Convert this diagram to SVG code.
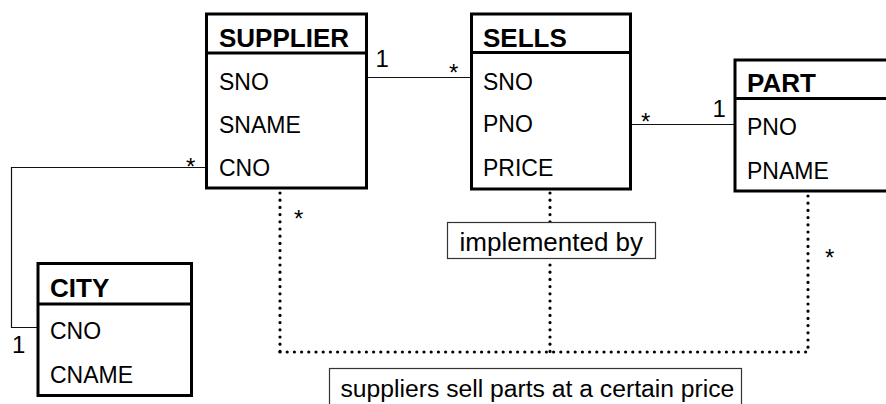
<svg xmlns="http://www.w3.org/2000/svg" width="886" height="404" viewBox="0 0 886 404">
  <style>
    text { font-family: "Liberation Sans", Arial, sans-serif; fill: #000; }
    .box { fill: #fff; stroke: #000; stroke-width: 3; }
    .sep { stroke: #000; stroke-width: 3; }
    .title { font-size: 26px; font-weight: bold; }
    .attr { font-size: 23px; }
    .mult { font-size: 24px; }
    .link { fill: none; stroke: #111; stroke-width: 1.2; }
    .dots { fill: none; stroke: #000; stroke-width: 3.2; stroke-linecap: round; stroke-dasharray: 0 7.2; }
    .note { fill: #fff; stroke: #333; stroke-width: 1.2; }
    .notetext { font-size: 26px; }
  </style>

  <!-- connectors -->
  <g id="connectors">
    <line class="link" x1="368" y1="77.5" x2="470" y2="77.5"/>
    <line class="link" x1="632" y1="124.5" x2="734" y2="124.5"/>
    <polyline class="link" points="205,167.5 11.5,167.5 11.5,327.5 37,327.5"/>

    <line class="dots" x1="280" y1="193" x2="280" y2="352"/>
    <line class="dots" x1="550" y1="193" x2="550" y2="222"/>
    <line class="dots" x1="550" y1="265" x2="550" y2="352"/>
    <line class="dots" x1="808" y1="196" x2="808" y2="352"/>
    <line class="dots" x1="280" y1="352" x2="808" y2="352"/>

    <text class="mult" x="375.5" y="67">1</text>
    <text class="mult" x="449" y="81">*</text>
    <text class="mult" x="641" y="130">*</text>
    <text class="mult" x="712.5" y="116.5">1</text>
    <text class="mult" x="186" y="174.5">*</text>
    <text class="mult" x="12" y="353">1</text>
    <text class="mult" x="294" y="226.5">*</text>
    <text class="mult" x="825" y="266">*</text>
  </g>

  <g id="supplier">
    <rect class="box" x="206.5" y="14" width="160" height="174"/>
    <line class="sep" x1="206.5" y1="53" x2="366.5" y2="53"/>
    <text class="title" x="219" y="46.5">SUPPLIER</text>
    <text class="attr" x="219" y="90">SNO</text>
    <text class="attr" x="219" y="132.5">SNAME</text>
    <text class="attr" x="219" y="176">CNO</text>
  </g>

  <g id="sells">
    <rect class="box" x="471.5" y="14" width="159" height="175"/>
    <line class="sep" x1="471.5" y1="52.5" x2="630.5" y2="52.5"/>
    <text class="title" x="483" y="46.5">SELLS</text>
    <text class="attr" x="483" y="90">SNO</text>
    <text class="attr" x="483" y="132">PNO</text>
    <text class="attr" x="483" y="175.5">PRICE</text>
  </g>

  <g id="part">
    <rect class="box" x="735" y="60" width="170" height="131"/>
    <line class="sep" x1="735" y1="98.5" x2="905" y2="98.5"/>
    <text class="title" x="747" y="91.5">PART</text>
    <text class="attr" x="747" y="134.5">PNO</text>
    <text class="attr" x="747" y="179">PNAME</text>
  </g>

  <g id="city">
    <rect class="box" x="38" y="263.5" width="153.5" height="132"/>
    <line class="sep" x1="38" y1="304" x2="191.5" y2="304"/>
    <text class="title" x="50" y="296.5">CITY</text>
    <text class="attr" x="50" y="339">CNO</text>
    <text class="attr" x="50" y="382.5">CNAME</text>
  </g>

  <g id="implemented-by">
    <rect class="note" x="447.5" y="222.5" width="208" height="36"/>
    <text class="notetext" x="459.5" y="251">implemented by</text>
  </g>

  <g id="association-note">
    <rect class="note" x="329.5" y="368.5" width="412" height="50"/>
    <text class="notetext" x="340.5" y="396.5" style="font-size:24.7px">suppliers sell parts at a certain price</text>
  </g>
</svg>
